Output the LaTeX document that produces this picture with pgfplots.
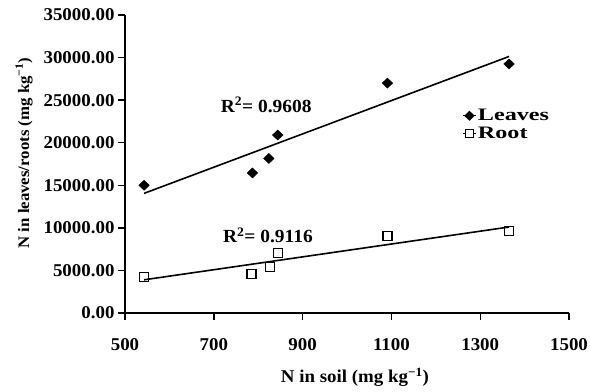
\documentclass[border=0pt]{standalone}
\usepackage{fontspec}
\setmainfont[FakeStretch=1.05]{Liberation Serif}
\newfontfamily\legfont[FakeStretch=1.38]{Liberation Serif}
\usepackage{pgfplots}
\pgfplotsset{compat=1.18}
\pgfdeclareplotmark{legleaves}{%
  \pgfsetlinewidth{1.4pt}%
  \pgfpathmoveto{\pgfqpoint{0pt}{0pt}}\pgfpathlineto{\pgfqpoint{13pt}{0pt}}\pgfusepathqstroke
  \pgfpathmoveto{\pgfqpoint{6.5pt}{5pt}}\pgfpathlineto{\pgfqpoint{11.75pt}{0pt}}%
  \pgfpathlineto{\pgfqpoint{6.5pt}{-5pt}}\pgfpathlineto{\pgfqpoint{1.25pt}{0pt}}\pgfpathclose\pgfusepathqfill
}
\pgfdeclareplotmark{legroot}{%
  \pgfsetlinewidth{1.4pt}%
  \pgfpathmoveto{\pgfqpoint{0pt}{0pt}}\pgfpathlineto{\pgfqpoint{2.5pt}{0pt}}%
  \pgfpathmoveto{\pgfqpoint{10.5pt}{0pt}}\pgfpathlineto{\pgfqpoint{13pt}{0pt}}\pgfusepathqstroke
  \pgfsetlinewidth{1.3pt}%
  \pgfpathrectangle{\pgfqpoint{2.5pt}{-4pt}}{\pgfqpoint{8pt}{8pt}}\pgfusepathqstroke
}
\begin{document}
\begin{tikzpicture}
\begin{axis}[
  scale only axis, width=444pt, height=298pt,
  xmin=500, xmax=1500, ymin=0, ymax=35000,
  xtick={500,700,...,1500}, ytick={0,5000,...,35000},
  axis lines=left,
  axis line style={line width=1.6pt,-},
  tick style={line width=1.4pt, black},
  tick align=outside, major tick length=7pt,
  /pgf/number format/assume math mode=true,
  scaled y ticks=false,
  x tick label style={font=\fontsize{18}{18}\selectfont\bfseries, /pgf/number format/1000 sep={}, yshift=-15pt},
  y tick label style={font=\fontsize{18}{18}\selectfont\bfseries, /pgf/number format/.cd, fixed, fixed zerofill, precision=2, 1000 sep={}},
  xlabel={N in soil (mg kg\textsuperscript{−1})},
  ylabel={N in leaves/roots (mg kg\textsuperscript{−1})},
  xlabel style={font=\fontsize{18}{18}\selectfont\bfseries, at={(axis description cs:0.518,-0.215)}, anchor=center},
  ylabel style={font=\fontsize{16}{16}\selectfont\bfseries, at={(axis description cs:-0.2275,0.537)}, anchor=center},
  legend style={draw=none, fill=none, at={(axis cs:1258,24300)}, anchor=north west,
    font=\fontsize{17.5}{18}\legfont\bfseries, row sep=1pt, inner sep=1pt},
  legend cell align=left,
]
\addlegendimage{black, mark=legleaves,
  legend image code/.code={\path[black] plot[mark=legleaves] coordinates {(0pt,0pt)};}}
\addlegendentry{Leaves}
\addlegendimage{black, mark=legroot,
  legend image code/.code={\path[black] plot[mark=legroot] coordinates {(0pt,0pt)};}}
\addlegendentry{Root}
% Leaves data
\addplot[only marks, mark=diamond*, mark size=5pt, mark options={xscale=1.4, line width=0.5pt}, black, forget plot] coordinates {
  (543,15000) (787,16450) (824,18150) (844,20900) (1091,27000) (1365,29250)
};
% Root data
\addplot[only marks, mark=square, mark size=4.5pt, mark options={line width=1.4pt}, black, forget plot] coordinates {
  (543,4200) (785,4570) (826,5420) (844,7060) (1091,9050) (1365,9640)
};
% trend lines
\addplot[black, line width=1.6pt, forget plot] coordinates {(543,14050) (1365,30130)};
\addplot[black, line width=1.6pt, forget plot] coordinates {(543,3900) (1365,10100)};
\node[font=\fontsize{18.5}{19}\selectfont\bfseries] at (axis cs:818,24450) {R\textsuperscript{2}= 0.9608};
\node[font=\fontsize{18.5}{19}\selectfont\bfseries] at (axis cs:822,9150) {R\textsuperscript{2}= 0.9116};
\end{axis}
\pgfresetboundingbox
\path (current axis.south west) ++(-125pt,-78pt) coordinate (bbsw);
\path (current axis.north east) ++(21pt,15pt) coordinate (bbne);
\useasboundingbox (bbsw) rectangle (bbne);
\end{tikzpicture}
\end{document}
